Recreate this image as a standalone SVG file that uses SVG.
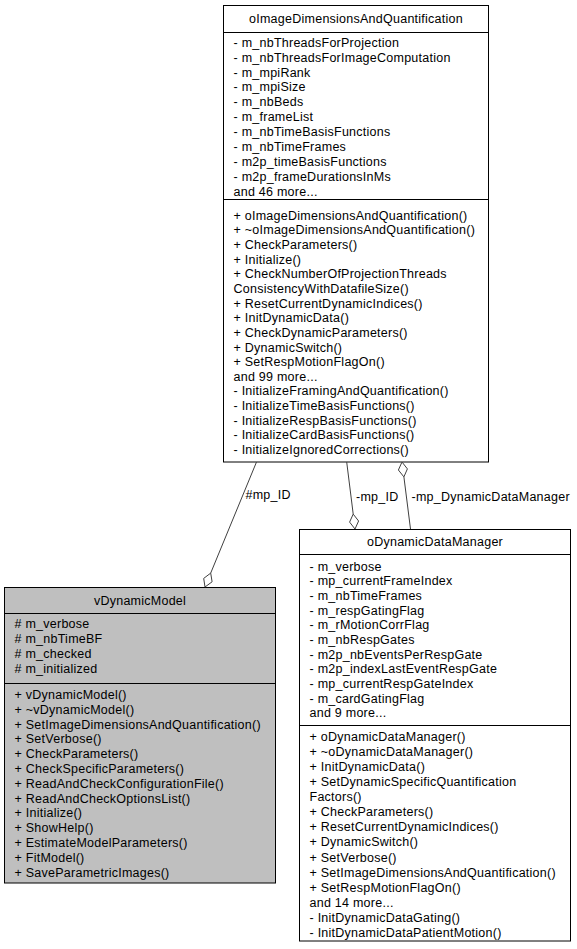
<svg xmlns="http://www.w3.org/2000/svg" width="577" height="949" viewBox="0 0 577 949">
<style>
text{font-family:"Liberation Sans",Arial,sans-serif;font-size:12.5px;letter-spacing:0.25px;fill:#000}
.t{text-anchor:middle}
.box{fill:#fff;stroke:#000;stroke-width:1}
.grey{fill:#bfbfbf;stroke:#000;stroke-width:1}
.sep{stroke:#000;stroke-width:1}
.edge{fill:none;stroke:#404040;stroke-width:1}
.dia{fill:#fff;stroke:#404040;stroke-width:1}
</style>
<rect width="577" height="949" fill="#fff"/>
<g id="oImageDimensionsAndQuantification">
<rect class="box" x="223.5" y="5.5" width="265" height="456.5"/>
<line class="sep" x1="223.5" y1="32.5" x2="488.5" y2="32.5"/>
<line class="sep" x1="223.5" y1="199.5" x2="488.5" y2="199.5"/>
<text class="t" x="356" y="22.5">oImageDimensionsAndQuantification</text>
<text x="233.5" y="46.7">- m_nbThreadsForProjection</text>
<text x="233.5" y="61.6">- m_nbThreadsForImageComputation</text>
<text x="233.5" y="76.5">- m_mpiRank</text>
<text x="233.5" y="91.4">- m_mpiSize</text>
<text x="233.5" y="106.3">- m_nbBeds</text>
<text x="233.5" y="121.2">- m_frameList</text>
<text x="233.5" y="136.1">- m_nbTimeBasisFunctions</text>
<text x="233.5" y="151">- m_nbTimeFrames</text>
<text x="233.5" y="165.9">- m2p_timeBasisFunctions</text>
<text x="233.5" y="180.8">- m2p_frameDurationsInMs</text>
<text x="233.5" y="195.7">and 46 more...</text>
<text x="233.5" y="219.7">+ oImageDimensionsAndQuantification()</text>
<text x="233.5" y="234.3">+ ~oImageDimensionsAndQuantification()</text>
<text x="233.5" y="249">+ CheckParameters()</text>
<text x="233.5" y="263.6">+ Initialize()</text>
<text x="233.5" y="278.3">+ CheckNumberOfProjectionThreads</text>
<text x="233.5" y="292.9">ConsistencyWithDatafileSize()</text>
<text x="233.5" y="307.5">+ ResetCurrentDynamicIndices()</text>
<text x="233.5" y="322.2">+ InitDynamicData()</text>
<text x="233.5" y="336.8">+ CheckDynamicParameters()</text>
<text x="233.5" y="351.5">+ DynamicSwitch()</text>
<text x="233.5" y="366.1">+ SetRespMotionFlagOn()</text>
<text x="233.5" y="380.7">and 99 more...</text>
<text x="233.5" y="395.4">- InitializeFramingAndQuantification()</text>
<text x="233.5" y="410">- InitializeTimeBasisFunctions()</text>
<text x="233.5" y="424.7">- InitializeRespBasisFunctions()</text>
<text x="233.5" y="439.3">- InitializeCardBasisFunctions()</text>
<text x="233.5" y="454">- InitializeIgnoredCorrections()</text>
</g>
<g id="vDynamicModel">
<rect class="grey" x="4.5" y="587.5" width="271" height="295.5"/>
<line class="sep" x1="4.5" y1="613.5" x2="275.5" y2="613.5"/>
<line class="sep" x1="4.5" y1="683.5" x2="275.5" y2="683.5"/>
<text class="t" x="140" y="604.5">vDynamicModel</text>
<text x="14.5" y="628">#&#160;m_verbose</text>
<text x="14.5" y="643">#&#160;m_nbTimeBF</text>
<text x="14.5" y="658">#&#160;m_checked</text>
<text x="14.5" y="673">#&#160;m_initialized</text>
<text x="14.5" y="699">+ vDynamicModel()</text>
<text x="14.5" y="713.8">+ ~vDynamicModel()</text>
<text x="14.5" y="728.6">+ SetImageDimensionsAndQuantification()</text>
<text x="14.5" y="743.4">+ SetVerbose()</text>
<text x="14.5" y="758.2">+ CheckParameters()</text>
<text x="14.5" y="773">+ CheckSpecificParameters()</text>
<text x="14.5" y="787.8">+ ReadAndCheckConfigurationFile()</text>
<text x="14.5" y="802.6">+ ReadAndCheckOptionsList()</text>
<text x="14.5" y="817.4">+ Initialize()</text>
<text x="14.5" y="832.2">+ ShowHelp()</text>
<text x="14.5" y="847">+ EstimateModelParameters()</text>
<text x="14.5" y="861.8">+ FitModel()</text>
<text x="14.5" y="876.6">+ SaveParametricImages()</text>
</g>
<g id="oDynamicDataManager">
<rect class="box" x="299.5" y="529.5" width="271" height="411.5"/>
<line class="sep" x1="299.5" y1="554.5" x2="570.5" y2="554.5"/>
<line class="sep" x1="299.5" y1="725.5" x2="570.5" y2="725.5"/>
<text class="t" x="435" y="546">oDynamicDataManager</text>
<text x="309.5" y="570.7">- m_verbose</text>
<text x="309.5" y="585.4">- mp_currentFrameIndex</text>
<text x="309.5" y="600">- m_nbTimeFrames</text>
<text x="309.5" y="614.7">- m_respGatingFlag</text>
<text x="309.5" y="629.3">- m_rMotionCorrFlag</text>
<text x="309.5" y="644">- m_nbRespGates</text>
<text x="309.5" y="658.7">- m2p_nbEventsPerRespGate</text>
<text x="309.5" y="673.3">- m2p_indexLastEventRespGate</text>
<text x="309.5" y="688">- mp_currentRespGateIndex</text>
<text x="309.5" y="702.6">- m_cardGatingFlag</text>
<text x="309.5" y="717.3">and 9 more...</text>
<text x="309.5" y="740.7">+ oDynamicDataManager()</text>
<text x="309.5" y="755.8">+ ~oDynamicDataManager()</text>
<text x="309.5" y="770.9">+ InitDynamicData()</text>
<text x="309.5" y="786">+ SetDynamicSpecificQuantification</text>
<text x="309.5" y="801.1">Factors()</text>
<text x="309.5" y="816.2">+ CheckParameters()</text>
<text x="309.5" y="831.3">+ ResetCurrentDynamicIndices()</text>
<text x="309.5" y="846.4">+ DynamicSwitch()</text>
<text x="309.5" y="861.5">+ SetVerbose()</text>
<text x="309.5" y="876.6">+ SetImageDimensionsAndQuantification()</text>
<text x="309.5" y="891.7">+ SetRespMotionFlagOn()</text>
<text x="309.5" y="906.8">and 14 more...</text>
<text x="309.5" y="921.9">- InitDynamicDataGating()</text>
<text x="309.5" y="937">- InitDynamicDataPatientMotion()</text>
</g>
<g id="connectors">
<line class="edge" x1="256.5" y1="462" x2="210.7" y2="573.1"/>
<polygon class="dia" points="205,587 203.7,578.4 210.7,573.1 212.1,581.8"/>
<text x="245.5" y="499">#mp_ID</text>
<line class="edge" x1="346.7" y1="462" x2="353.2" y2="514.1"/>
<polygon class="dia" points="355,529 349.6,522.1 353.2,514.1 358.6,521"/>
<text x="356" y="500.5">-mp_ID</text>
<line class="edge" x1="403.9" y1="476.9" x2="410.5" y2="529"/>
<polygon class="dia" points="402,462 398.4,470 403.9,476.9 407.4,468.9"/>
<text x="411.5" y="500.5">-mp_DynamicDataManager</text>
</g>
</svg>
